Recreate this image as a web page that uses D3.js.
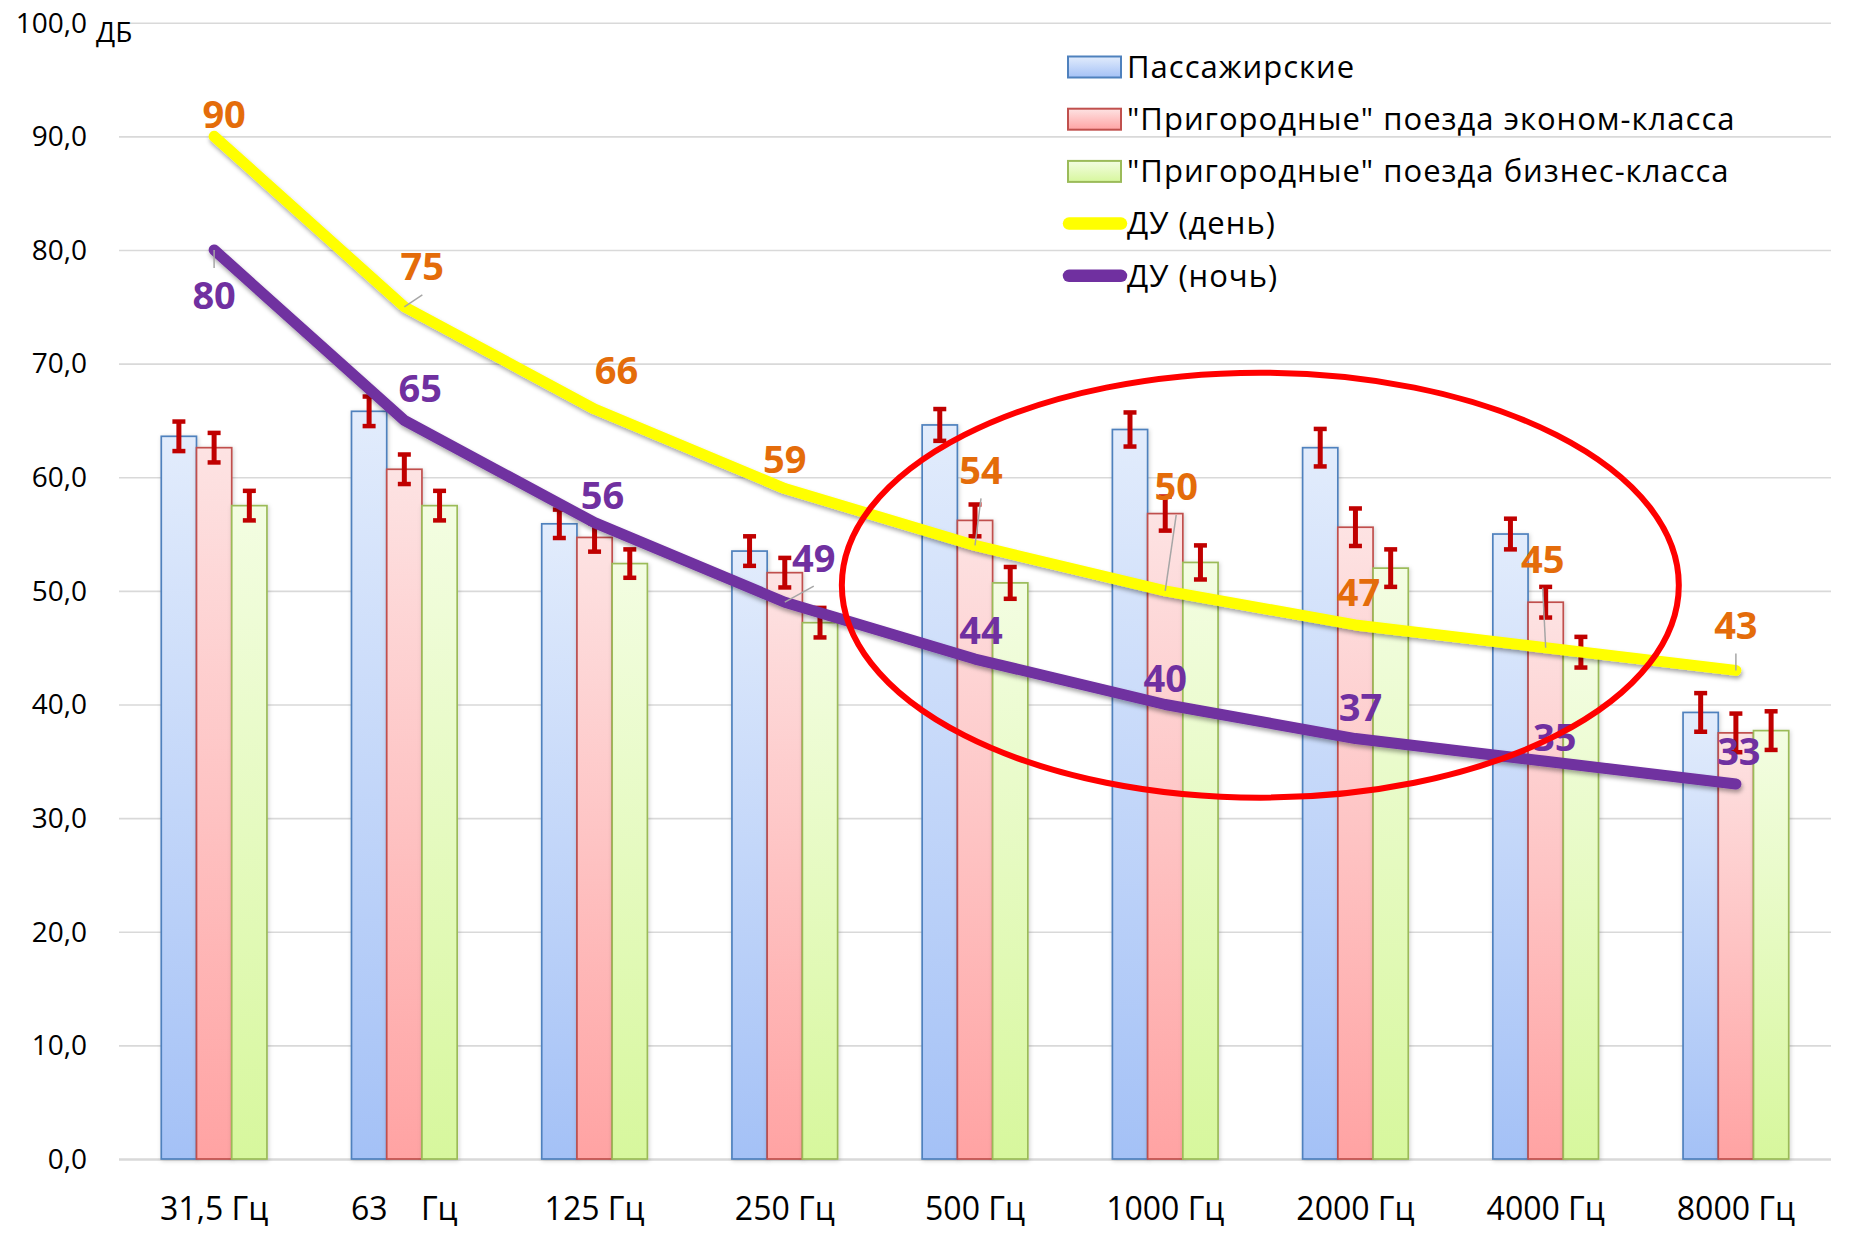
<!DOCTYPE html>
<html lang="ru">
<head>
<meta charset="UTF-8" />
<title>Уровни шума по частотам</title>
<script src="https://d3js.org/d3.v7.min.js"></script>
<style>
  body { margin: 0; background: #fff; }
  svg { display: block; font-family: "Open Sans", sans-serif; }
  .grid line { stroke: #d9d9d9; stroke-width: 1.6px; }
  .grid .domain { display: none; }
  .ytick text { font-size: 28px; fill: #000; }
  .xlab { font-size: 32px; fill: #000; white-space: pre; }
  .legend text { font-size: 31px; letter-spacing: 1px; fill: #000; }
  .val { font-size: 38px; font-weight: 700; }
</style>
</head>
<body>
<svg id="chart"></svg>
<script>
// categories and values
const categories = ["31,5 Гц", "63    Гц", "125 Гц", "250 Гц", "500 Гц", "1000 Гц", "2000 Гц", "4000 Гц", "8000 Гц"];
const seriesNames = ["Пассажирские", "\"Пригородные\" поезда эконом-класса", "\"Пригородные\" поезда бизнес-класса"];
const passenger = [63.6, 65.8, 55.9, 53.5, 64.6, 64.2, 62.6, 55.0, 39.3];
const suburbanEconomy = [62.6, 60.7, 54.7, 51.6, 56.2, 56.8, 55.6, 49.0, 37.5];
const suburbanBusiness = [57.5, 57.5, 52.4, 47.2, 50.7, 52.5, 52.0, 44.6, 37.7];
const errors = [1.3, 1.3, 1.25, 1.3, 1.4, 1.5, 1.65, 1.35, 1.7];
const lineNames = ["ДУ (день)", "ДУ (ночь)"];
const duDay = [90, 75, 66, 59, 54, 50, 47, 45, 43];
const duNight = [80, 65, 56, 49, 44, 40, 37, 35, 33];
const yTicks = [0, 10, 20, 30, 40, 50, 60, 70, 80, 90, 100];

// label nudges (px) and leader lines, set by hand like in the source
const dayLabelShift = [[10, -22], [18, -40], [22, -38], [0, -29], [6, -75], [11, -104], [3, -32], [-3, -88], [0, -45]];
const nightLabelShift = [[0, 46], [16, -32], [8, -27], [29, -44], [6, -28], [0, -26], [5, -31], [9, -24], [3, -32]];
const dayLeader = [false, true, false, false, true, true, false, true, true];
const nightLeader = [true, false, false, true, false, false, false, false, false];

const width = 1865, height = 1239;
const plot = { left: 119, right: 1831, top: 22.7, bottom: 1159 };

const svg = d3.select("#chart").attr("width", width).attr("height", height);

const x = d3.scaleBand().domain(categories).range([plot.left, plot.right]).padding(0);
const x1 = d3.scaleBand().domain(seriesNames).range([0, x.bandwidth()]).paddingInner(0).paddingOuter(1.2);
const y = d3.scaleLinear().domain([0, 100]).range([plot.bottom, plot.top]);

const ruFmt = d3.formatLocale({ decimal: ",", thousands: " ", grouping: [3], currency: ["", ""] }).format(".1f");

const defs = svg.append("defs");
const fills = [
  { id: "g0", top: "#e2ecfc", bottom: "#a4c1f6", stroke: "#4f81bd" },
  { id: "g1", top: "#fde3e3", bottom: "#ffa3a3", stroke: "#c0504d" },
  { id: "g2", top: "#f3fde2", bottom: "#d7f79d", stroke: "#9bbb59" }
];
fills.forEach(f => {
  const g = defs.append("linearGradient").attr("id", f.id).attr("x1", 0).attr("y1", 0).attr("x2", 0).attr("y2", 1);
  g.append("stop").attr("offset", "0%").attr("stop-color", f.top);
  g.append("stop").attr("offset", "100%").attr("stop-color", f.bottom);
});
const sh = defs.append("filter").attr("id", "shadow").attr("x", "-10%").attr("y", "-10%").attr("width", "120%").attr("height", "130%");
sh.append("feDropShadow").attr("dx", 1).attr("dy", 3).attr("stdDeviation", 2).attr("flood-color", "#000").attr("flood-opacity", 0.35);
const shBar = defs.append("filter").attr("id", "barShadow").attr("x", "-20%").attr("y", "-5%").attr("width", "140%").attr("height", "110%");
shBar.append("feDropShadow").attr("dx", 1).attr("dy", 1).attr("stdDeviation", 2).attr("flood-color", "#000").attr("flood-opacity", 0.18);

// gridlines + y labels
svg.append("g").attr("class", "grid")
  .attr("transform", `translate(${plot.left},0)`)
  .call(d3.axisLeft(y).tickValues(yTicks).tickSize(-(plot.right - plot.left)).tickFormat(""));
svg.select(".grid").selectAll("line").filter(d => d === 0).style("stroke-width", "2.4px");

svg.append("g").attr("class", "ytick")
  .selectAll("text").data(yTicks).join("text")
  .attr("x", 87).attr("y", d => y(d)).attr("dy", "0.35em")
  .attr("text-anchor", "end").text(d => ruFmt(d));

svg.append("text").attr("x", 96).attr("y", 42).style("font-size", "28px").text("ДБ");

// x labels
svg.append("g").selectAll("text").data(categories).join("text")
  .attr("class", "xlab").attr("x", d => x(d) + x.bandwidth() / 2).attr("y", 1220)
  .attr("text-anchor", "middle").text(d => d);

// bars
const barSeries = [passenger, suburbanEconomy, suburbanBusiness];
const groups = svg.append("g").selectAll("g").data(categories).join("g")
  .attr("transform", d => `translate(${x(d)},0)`);
groups.selectAll("rect")
  .data((c, i) => seriesNames.map((s, k) => ({ s, k, v: barSeries[k][i] })))
  .join("rect")
  .attr("x", d => x1(d.s)).attr("width", x1.bandwidth())
  .attr("y", d => y(d.v)).attr("height", d => y(0) - y(d.v))
  .attr("fill", d => `url(#${fills[d.k].id})`)
  .attr("stroke", d => fills[d.k].stroke).attr("stroke-width", 1.7)
  .attr("filter", "url(#barShadow)");

// error bars
const errG = groups.selectAll("g.err")
  .data((c, i) => seriesNames.map((s, k) => ({ s, v: barSeries[k][i], e: errors[i] })))
  .join("g").attr("class", "err")
  .attr("stroke", "#c00000").attr("stroke-width", 5);
errG.append("line")
  .attr("x1", d => x1(d.s) + x1.bandwidth() / 2).attr("x2", d => x1(d.s) + x1.bandwidth() / 2)
  .attr("y1", d => y(d.v + d.e)).attr("y2", d => y(d.v - d.e));
errG.selectAll("line.cap").data(d => [d.v + d.e, d.v - d.e].map(t => ({ s: d.s, t }))).join("line")
  .attr("class", "cap")
  .attr("x1", d => x1(d.s) + x1.bandwidth() / 2 - 6.5).attr("x2", d => x1(d.s) + x1.bandwidth() / 2 + 6.5)
  .attr("y1", d => y(d.t)).attr("y2", d => y(d.t)).attr("stroke-width", 4.5);

// lines
const cx = c => x(c) + x.bandwidth() / 2;
const line = d3.line().x((d, i) => cx(categories[i])).y(d => y(d));
const lineDefs = [
  { data: duDay, color: "#ffff00", labelColor: "#e46c0a", shift: dayLabelShift, leader: dayLeader },
  { data: duNight, color: "#7030a0", labelColor: "#7030a0", shift: nightLabelShift, leader: nightLeader }
];
lineDefs.forEach(L => {
  svg.append("path").datum(L.data)
    .attr("d", line).attr("fill", "none")
    .attr("stroke", L.color).attr("stroke-width", 11)
    .attr("stroke-linejoin", "round").attr("stroke-linecap", "round")
    .attr("filter", "url(#shadow)");
});

// data labels with leader lines
lineDefs.forEach(L => {
  const g = svg.append("g");
  L.data.forEach((v, i) => {
    const px = cx(categories[i]), py = y(v);
    const lx = px + L.shift[i][0], ly = py + L.shift[i][1];
    if (L.leader[i]) {
      const endY = ly + (py > ly ? 28 : -28);
      g.append("line").attr("x1", px).attr("y1", py).attr("x2", lx).attr("y2", endY)
        .attr("stroke", "#a6a6a6").attr("stroke-width", 1.5);
    }
    g.append("text").attr("class", "val")
      .attr("x", lx).attr("y", ly).attr("dy", "0.35em")
      .attr("text-anchor", "middle").attr("fill", L.labelColor).text(v);
  });
});

// legend
const legend = svg.append("g").attr("class", "legend");
const rowY = i => 67 + i * 52.2;
seriesNames.forEach((s, i) => {
  legend.append("rect").attr("x", 1068).attr("y", rowY(i) - 10.5).attr("width", 53).attr("height", 21)
    .attr("fill", `url(#${fills[i].id})`).attr("stroke", fills[i].stroke).attr("stroke-width", 2);
  legend.append("text").attr("x", 1127).attr("y", rowY(i)).attr("dy", "0.35em").text(s);
});
lineNames.forEach((s, j) => {
  const i = j + 3;
  legend.append("line").attr("x1", 1069).attr("x2", 1121).attr("y1", rowY(i)).attr("y2", rowY(i))
    .attr("stroke", lineDefs[j].color).attr("stroke-width", 12.5).attr("stroke-linecap", "round");
  legend.append("text").attr("x", 1127).attr("y", rowY(i)).attr("dy", "0.35em").text(s);
});

// red ellipse highlighting 500–4000 Гц
svg.append("ellipse")
  .attr("cx", (cx(categories[4]) + cx(categories[7])) / 2)
  .attr("cy", y(50.5))
  .attr("rx", x.bandwidth() * 2.2)
  .attr("ry", y(31.8) - y(50.5))
  .attr("fill", "none").attr("stroke", "#ff0000").attr("stroke-width", 6);
</script>
</body>
</html>
